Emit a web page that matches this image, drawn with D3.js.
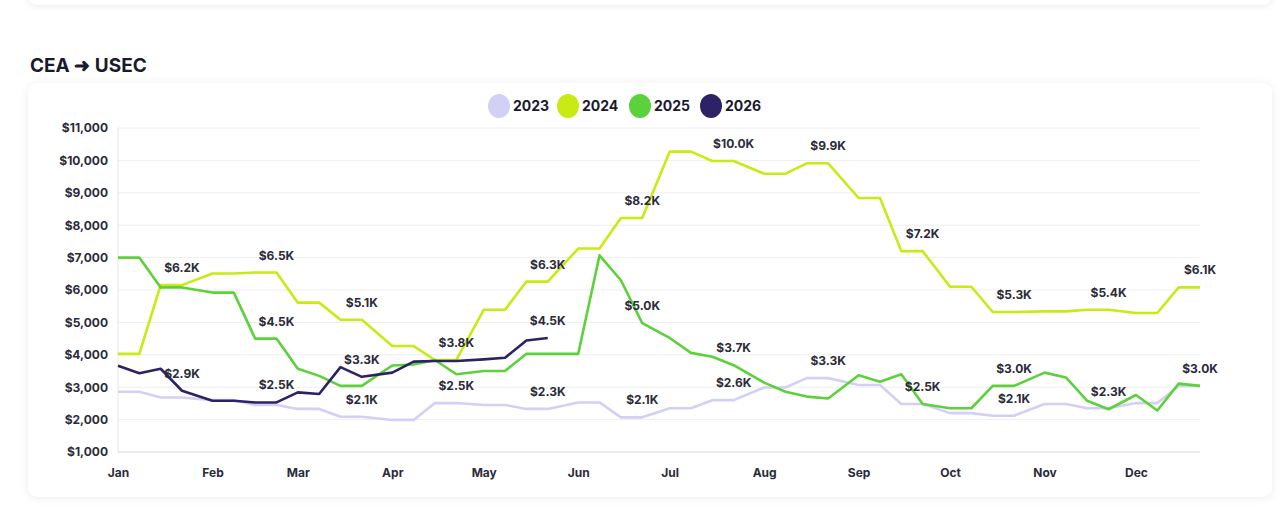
<!DOCTYPE html>
<html>
<head>
<meta charset="utf-8">
<script src="https://cdn.jsdelivr.net/npm/d3@7"></script>
<style>
  body { margin: 0; background: #ffffff; font-family: Inter, "Noto Sans", sans-serif; }
  .title { font-size: 19px; font-weight: 700; fill: #1a1a2e; }
  .axis text { font-size: 12px; font-weight: 700; fill: #2b2b3a; font-family: Inter, sans-serif; }
  .legend text { font-size: 14px; font-weight: 700; fill: #1a1a2e; }
  .valueLabel { font-size: 12px; font-weight: 700; fill: #2b2b3a; text-anchor: middle; }
</style>
</head>
<body>
<div id="chart-area"></div>
<script>
// weekly points: days 1, 8, 15, 22 of each month
const days = [1, 8, 15, 22];
const years = ["2023", "2024", "2025", "2026"];
const colours = ["#d3d0f6", "#c9ea12", "#5dd13b", "#2d2264"];

const values2023 = [2.86,2.86,2.68,2.68, 2.60,2.60,2.45,2.45, 2.33,2.33,2.09,2.09, 1.99,1.99,2.51,2.51,
  2.45,2.45,2.33,2.33, 2.53,2.53,2.07,2.07, 2.35,2.35,2.60,2.60, 2.99,2.99,3.28,3.28,
  3.07,3.07,2.48,2.48, 2.20,2.20,2.12,2.12, 2.48,2.48,2.35,2.35, 2.51,2.51,3.04,3.04];
const values2024 = [4.03,4.03,6.15,6.15, 6.51,6.51,6.54,6.54, 5.61,5.61,5.08,5.08, 4.27,4.27,3.84,3.84,
  5.39,5.39,6.26,6.26, 7.28,7.28,8.22,8.22, 10.27,10.27,9.98,9.98, 9.59,9.59,9.91,9.91,
  8.84,8.84,7.20,7.20, 6.10,6.10,5.32,5.32, 5.34,5.34,5.39,5.39, 5.29,5.29,6.08,6.08];
const values2025 = [7.00,7.00,6.08,6.08, 5.92,5.92,4.50,4.50, 3.57,3.35,3.04,3.04, 3.67,3.70,3.84,3.40,
  3.50,3.50,4.03,4.03, 4.03,7.07,6.30,4.98, 4.52,4.06,3.94,3.68, 3.14,2.86,2.71,2.65,
  3.37,3.17,3.40,2.48, 2.35,2.35,3.04,3.04, 3.45,3.30,2.58,2.32, 2.76,2.28,3.11,3.04];
const values2026 = [3.66,3.43,3.57,2.89, 2.58,2.58,2.53,2.53, 2.84,2.79,3.62,3.32, 3.45,3.79,3.81,3.81,
  3.86,3.91,4.44,4.52];
const seriesValues = [values2023, values2024, values2025, values2026];

// which series carry a value label on the 22nd of each month
const labelSeries = [
  ["2024","2026"], ["2024","2025","2026"], ["2024","2026","2023"], ["2024","2023"],
  ["2024","2026","2023"], ["2024","2025","2023"], ["2024","2025","2023"], ["2024","2023"],
  ["2024","2025"], ["2024","2025","2023"], ["2024","2025"], ["2024","2025"]
];
const yTicks = [1000,2000,3000,4000,5000,6000,7000,8000,9000,10000,11000];

const width = 1280, height = 509;
const svg = d3.select("#chart-area").append("svg")
  .attr("width", width).attr("height", height);

const defs = svg.append("defs");
const f = defs.append("filter").attr("id", "shadow").attr("x", "-5%").attr("y", "-5%").attr("width", "110%").attr("height", "115%");
f.append("feDropShadow").attr("dx", 0).attr("dy", 1).attr("stdDeviation", 4).attr("flood-color", "#000").attr("flood-opacity", 0.08);

// top card edge and main card
svg.append("rect").attr("x", 28).attr("y", -40).attr("width", 1244).attr("height", 45)
  .attr("rx", 10).style("fill", "#fff").attr("filter", "url(#shadow)");
svg.append("rect").attr("x", 28).attr("y", 83).attr("width", 1244).attr("height", 414)
  .attr("rx", 10).style("fill", "#fff").attr("filter", "url(#shadow)");

svg.append("text").attr("class", "title").attr("x", 30).attr("y", 72).text("CEA ➜ USEC");

const parse = (m, d) => new Date(2023, m, d);
const dates = [];
for (let m = 0; m < 12; m++) days.forEach(d => dates.push(parse(m, d)));

const x = d3.scaleTime().domain([parse(0, 1), parse(11, 22)]).range([118, 1200]);
const y = d3.scaleLinear().domain([1000, 11000]).range([452, 128]);

// grid
svg.append("g").selectAll("line").data(yTicks).enter().append("line")
  .attr("x1", 118).attr("x2", 1200).attr("y1", d => y(d)).attr("y2", d => y(d))
  .style("stroke", d => d === 1000 ? "#d8d8de" : "#eeeef2").style("stroke-width", 1);
svg.append("line").attr("x1", 118).attr("x2", 118).attr("y1", 128).attr("y2", 452)
  .style("stroke", "#e6e6ea");

const yAxis = d3.axisLeft(y).tickValues(yTicks).tickSize(0).tickPadding(10)
  .tickFormat(d => "$" + d3.format(",")(d));
svg.append("g").attr("class", "axis").attr("transform", "translate(118,0)").call(yAxis)
  .call(g => g.select(".domain").remove());

const xAxis = d3.axisBottom(x).ticks(d3.timeMonth.every(1)).tickSize(0).tickPadding(16)
  .tickFormat(d3.timeFormat("%b"));
svg.append("g").attr("class", "axis").attr("transform", "translate(0,452)").call(xAxis)
  .call(g => g.select(".domain").remove());

// lines
const line = d3.line().x((d, i) => x(dates[i])).y(d => y(d * 1000));
seriesValues.forEach((vals, s) => {
  svg.append("path").datum(vals).attr("d", line)
    .style("fill", "none").style("stroke", colours[s]).style("stroke-width", 2.6)
    .style("stroke-linejoin", "round");
});

// value labels
labelSeries.forEach((list, m) => {
  list.forEach(yr => {
    const s = years.indexOf(yr);
    const i = m * 4 + 3;
    const v = seriesValues[s][i];
    svg.append("text").attr("class", "valueLabel")
      .attr("x", x(dates[i])).attr("y", y(v * 1000) - 13)
      .text("$" + d3.format(".1f")(v) + "K");
  });
});

// legend
const legendX = [499, 568, 640, 711];
const lg = svg.append("g").attr("class", "legend");
years.forEach((yr, s) => {
  lg.append("ellipse").attr("cx", legendX[s]).attr("cy", 106).attr("rx", 11).attr("ry", 12)
    .style("fill", colours[s]);
  lg.append("text").attr("x", legendX[s] + 14).attr("y", 111).text(yr);
});
</script>
</body>
</html>
